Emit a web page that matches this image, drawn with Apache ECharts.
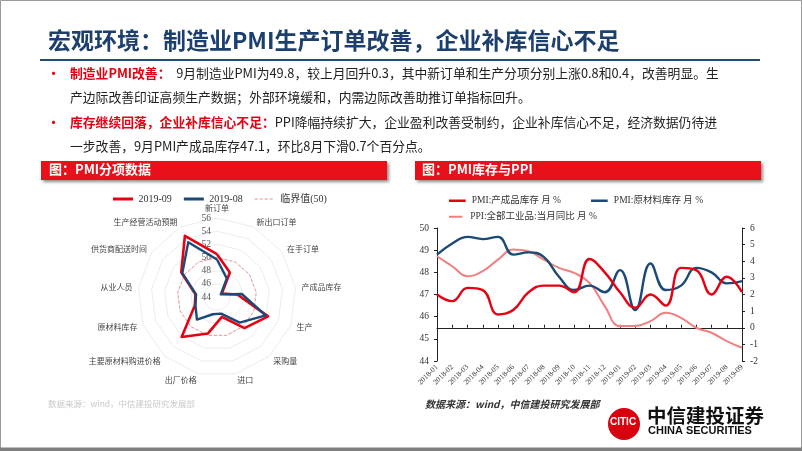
<!DOCTYPE html>
<html><head><meta charset="utf-8">
<script src="https://cdn.jsdelivr.net/npm/echarts@6/dist/echarts.min.js"></script>
<style>html,body{margin:0;padding:0;background:#fff}#c{width:802px;height:451px}</style>
</head><body><div id="c"></div>
<script>
// ---- Radar (PMI sub-indices), listed clockwise from the top ----
const radarIndicators = ['新订单','新出口订单','在手订单','产成品库存','生产','采购量','进口','出厂价格','主要原材料购进价格','原材料库存','从业人员','供货商配送时间','生产经营活动预期'];
const pmiSep = [50.5,48.2,44.9,47.1,52.3,50.3,47.1,49.7,52.1,47.6,47.3,50.6,54.5];
const pmiAug = [49.7,47.2,44.7,47.8,51.9,49.2,46.6,46.7,48.6,47.5,47.2,50.4,53.4];
const criticalLine = [50,50,50,50,50,50,50,50,50,50,50,50,50];
const radarMin = 44, radarMax = 56, radarSplits = 6;
const radarSeriesNames = ['2019-09','2019-08','临界值(50)'];

// ---- Line chart (inventory vs PPI) ----
const months = ['2018-01','2018-02','2018-03','2018-04','2018-05','2018-06','2018-07','2018-08','2018-09','2018-10','2018-11','2018-12','2019-01','2019-02','2019-03','2019-04','2019-05','2019-06','2019-07','2019-08','2019-09'];
const finishedInv = [47.0,46.7,47.3,47.2,46.1,46.3,47.1,47.4,47.4,47.1,48.6,48.0,47.1,46.4,47.0,46.5,48.2,48.1,47.0,47.8,47.1];
const rawInv = [48.8,49.3,49.6,49.5,49.6,48.8,48.9,48.7,47.8,47.2,47.4,47.1,48.1,46.3,48.4,47.2,47.4,48.2,48.0,47.5,47.6];
const ppi = [4.3,3.7,3.1,3.4,4.1,4.7,4.6,4.1,3.6,3.3,2.7,1.3,0.1,0.1,0.4,0.9,0.6,0.0,-0.3,-0.8,-1.2];
const lineSeriesNames = ['PMI:产成品库存 月 %','PMI:原材料库存 月 %','PPI:全部工业品:当月同比 月 %'];

const RED = '#e60012', NAVY = '#1b4a78', PINK = '#f08080', DASH = '#f28a8a';
const SERIF = "'Liberation Serif','Noto Sans CJK SC',serif";
const SANS = "'Noto Sans CJK SC','Noto Sans',sans-serif";

// ECharts lays radar indicators out counter-clockwise; reorder so they run clockwise like the reference.
const cwOrder = [0].concat(radarIndicators.map((_, i) => i).slice(1).reverse());
const reorder = arr => cwOrder.map(i => arr[i]);

const chart = echarts.init(document.getElementById('c'), null, {renderer:'canvas'});

const indicator = reorder(radarIndicators).map((n, i) => {
  const o = {name: n, min: radarMin, max: radarMax};
  if (i === 0) o.axisLabel = {show: true, color: '#555', fontSize: 9.5, fontFamily: SERIF, margin: 6};
  return o;
});

const bulletText = (x, y, parts) => ({
  type: 'text', left: x, top: y,
  style: {
    text: parts, fontSize: 12.8, fontFamily: SANS, fill: '#222',
    rich: { r: {fill: RED, fontWeight: 'bold', fontSize: 12.8, fontFamily: SANS}, b: {fill:'#222', fontSize: 12.8, fontFamily: SANS} }
  }
});

const ICON_LINE = 'path://M0,0h20v3h-20z';
const ICON_DASH = 'path://M0,1h3v1h-3z M5,1h3v1h-3z M10,1h3v1h-3z M15,1h3v1h-3z M0,0h0.01v0.01h-0.01z M19.99,2.99h0.01v0.01h-0.01z';

const option = {
  animation: false,
  backgroundColor: '#fff',
  textStyle: {fontFamily: SERIF},
  legend: [
    {data: [{name: radarSeriesNames[0], icon: ICON_LINE}, {name: radarSeriesNames[1], icon: ICON_LINE}, {name: radarSeriesNames[2], icon: ICON_DASH}],
     left: 108, top: 189, itemWidth: 21, itemHeight: 3, itemGap: 12,
     textStyle: {fontSize: 10, color: '#333', fontFamily: SERIF}},
    {data: [{name: lineSeriesNames[0], icon: ICON_LINE}, {name: lineSeriesNames[1], icon: ICON_LINE}],
     left: 444, top: 191, itemWidth: 19, itemHeight: 2.5, itemGap: 30,
     textStyle: {fontSize: 9.5, color: '#333', fontFamily: SERIF}},
    {data: [{name: lineSeriesNames[2], icon: ICON_LINE}], left: 444, top: 207, itemWidth: 19, itemHeight: 2,
     textStyle: {fontSize: 9.5, color: '#333', fontFamily: SERIF}}
  ],
  radar: {
    center: [217, 297], radius: 79, startAngle: 90, shape: 'polygon',
    splitNumber: radarSplits,
    indicator: indicator,
    nameGap: 6,
    axisName: {color: '#444', fontSize: 8, fontFamily: SANS},
    axisLabel: {show: false},
    axisLine: {show: false},
    axisTick: {show: false},
    splitLine: {lineStyle: {color: '#ececec', width: 1}},
    splitArea: {show: false}
  },
  grid: {left: 437, right: 60, top: 228, bottom: 90},
  xAxis: {
    type: 'category', data: months, boundaryGap: false,
    axisLine: {lineStyle: {color: '#222', width: 1}},
    axisTick: {inside: true, length: 3, lineStyle: {color: '#222'}, alignWithLabel: true},
    axisLabel: {rotate: 45, interval: 0, fontSize: 7.5, color: '#333', fontFamily: SERIF, margin: 5}
  },
  yAxis: [
    {type: 'value', min: 44, max: 50, interval: 1, position: 'left',
     axisLine: {show: true, lineStyle: {color: '#222'}},
     axisTick: {show: true, length: 3, lineStyle: {color: '#222'}},
     splitLine: {show: false},
     axisLabel: {fontSize: 9.5, color: '#333', fontFamily: SERIF, margin: 8}},
    {type: 'value', min: -2, max: 6, interval: 1, position: 'right',
     axisLine: {show: true, lineStyle: {color: '#222'}},
     axisTick: {show: true, length: 3, lineStyle: {color: '#222'}},
     splitLine: {show: false},
     axisLabel: {fontSize: 9.5, color: '#333', fontFamily: SERIF, margin: 8}}
  ],
  series: [
    {type: 'radar', name: radarSeriesNames[0], symbol: 'none', z: 3,
     lineStyle: {color: RED, width: 2.6}, itemStyle: {color: RED},
     data: [{value: reorder(pmiSep), name: radarSeriesNames[0]}]},
    {type: 'radar', name: radarSeriesNames[1], symbol: 'none', z: 4,
     lineStyle: {color: NAVY, width: 2.4}, itemStyle: {color: NAVY},
     data: [{value: reorder(pmiAug), name: radarSeriesNames[1]}]},
    {type: 'radar', name: radarSeriesNames[2], symbol: 'none', z: 2,
     lineStyle: {color: DASH, width: 0.9, type: [3, 2]}, itemStyle: {color: DASH},
     data: [{value: reorder(criticalLine), name: radarSeriesNames[2]}]},
    {type: 'line', name: lineSeriesNames[0], data: finishedInv, yAxisIndex: 0, smooth: 0.45, symbol: 'none', z: 4,
     lineStyle: {color: RED, width: 2.4}, itemStyle: {color: RED}},
    {type: 'line', name: lineSeriesNames[1], data: rawInv, yAxisIndex: 0, smooth: 0.45, symbol: 'none', z: 3,
     lineStyle: {color: NAVY, width: 2.4}, itemStyle: {color: NAVY}},
    {type: 'line', name: lineSeriesNames[2], data: ppi, yAxisIndex: 1, smooth: 0.45, symbol: 'none', z: 2,
     lineStyle: {color: PINK, width: 2}, itemStyle: {color: PINK}}
  ],
  graphic: [
    {type: 'rect', shape: {x: 0.5, y: 0.5, width: 801, height: 448}, style: {fill: 'none', stroke: '#9a9a9a', lineWidth: 1}, silent: true},
    {type: 'rect', shape: {x: 0, y: 447.5, width: 802, height: 3.5}, style: {fill: '#7f7f7f'}, silent: true},
    {type: 'text', left: 48, top: 29, style: {text: '宏观环境：制造业PMI生产订单改善，企业补库信心不足', fontSize: 23, fontWeight: 'bold', fontFamily: SANS, fill: '#1c3f6e'}},
    {type: 'rect', shape: {x: 40, y: 59, width: 720, height: 2}, style: {fill: '#1f4e79'}, silent: true},
    {type: 'text', left: 46, top: 66, style: {text: '•', fontSize: 15, fill: RED, fontFamily: SANS}},
    {type: 'text', left: 46, top: 115, style: {text: '•', fontSize: 15, fill: RED, fontFamily: SANS}},
    bulletText(70, 67, '{r|制造业PMI改善：}{b|  9月制造业PMI为49.8，较上月回升0.3，其中新订单和生产分项分别上涨0.8和0.4，改善明显。生}'),
    bulletText(70, 91, '{b|产边际改善印证高频生产数据；外部环境缓和，内需边际改善助推订单指标回升。}'),
    bulletText(70, 116, '{r|库存继续回落，企业补库信心不足：}{b|PPI降幅持续扩大，企业盈利改善受制约，企业补库信心不足，经济数据仍待进}'),
    bulletText(70, 140, '{b|一步改善，9月PMI产成品库存47.1，环比8月下滑0.7个百分点。}'),
    {type: 'rect', shape: {x: 41, y: 161, width: 346, height: 19}, style: {fill: '#e8111b', shadowBlur: 3, shadowOffsetX: 2, shadowOffsetY: 2, shadowColor: 'rgba(0,0,0,0.45)'}},
    {type: 'text', left: 49, top: 163, style: {text: '图：PMI分项数据', fontSize: 13, fontWeight: 'bold', fill: '#fff', fontFamily: SANS}},
    {type: 'rect', shape: {x: 415, y: 161, width: 346, height: 19}, style: {fill: '#e8111b', shadowBlur: 3, shadowOffsetX: 2, shadowOffsetY: 2, shadowColor: 'rgba(0,0,0,0.45)'}},
    {type: 'text', left: 422, top: 163, style: {text: '图：PMI库存与PPI', fontSize: 13, fontWeight: 'bold', fill: '#fff', fontFamily: SANS}},
    {type: 'text', left: 48, top: 400, style: {text: '数据来源：wind，中信建投研究发展部', fontSize: 8.5, fill: '#c8c8c8', fontFamily: SANS}},
    {type: 'text', left: 425, top: 399, style: {text: '数据来源：wind，中信建投研究发展部', fontSize: 10, fontStyle: 'italic', fontWeight: 'bold', fill: '#333', fontFamily: SANS}},
    {type: 'circle', shape: {cx: 624, cy: 424, r: 16}, style: {fill: '#d8000f'}},
    {type: 'text', left: 610, top: 417, style: {text: 'CITIC', fontSize: 10, fontWeight: 'bold', fill: '#fff', fontFamily: "'Liberation Sans Narrow','Liberation Sans',sans-serif"}},
    {type: 'text', left: 647, top: 406, style: {text: '中信建投证券', fontSize: 19.5, fontWeight: 'bold', fill: '#111', fontFamily: SANS}},
    {type: 'text', left: 648, top: 425, style: {text: 'CHINA SECURITIES', fontSize: 11, fontWeight: 'bold', fill: '#111', fontFamily: "'Liberation Sans',Arial,sans-serif"}}
  ]
};
chart.setOption(option);
</script>
</body></html>
